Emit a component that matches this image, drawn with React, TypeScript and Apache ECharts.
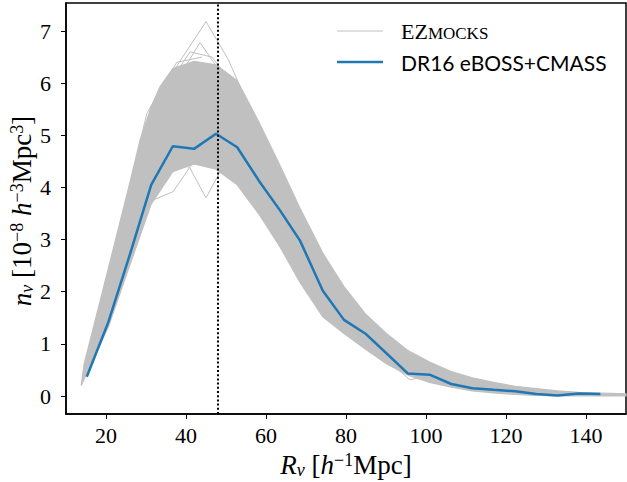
import React, { useEffect, useRef } from "react";
import * as echarts from "echarts";

// DR16 eBOSS+CMASS measured void number density
const dataX = [15.2, 20.6, 26.0, 31.3, 36.7, 42.0, 47.5, 52.8, 58.3, 63.5, 68.5, 74.2, 79.5, 84.8, 90.1, 95.5, 100.9, 106.3, 111.6, 116.9, 122.3, 127.6, 132.9, 138.1, 143.6];
const dataY = [0.37, 1.42, 2.72, 4.05, 4.79, 4.74, 5.03, 4.77, 4.12, 3.56, 2.98, 2.02, 1.46, 1.2, 0.82, 0.43, 0.41, 0.23, 0.15, 0.12, 0.09, 0.04, 0.01, 0.05, 0.04];

// EZmocks envelope (upper and lower edge of the bundle of mock curves)
const bandUpperX = [14.5, 20.6, 26.0, 28.5, 31.3, 33.5, 36.7, 42.0, 47.5, 52.8, 58.3, 63.5, 68.5, 74.2, 79.5, 84.8, 90.1, 95.5, 100.9, 106.3, 111.6, 116.9, 122.3, 127.6, 132.9, 138.1, 143.6, 150];
const bandUpperY = [0.6, 2.45, 4.1, 4.9, 5.55, 5.93, 6.28, 6.42, 6.35, 6.05, 5.24, 4.42, 3.6, 2.74, 2.1, 1.58, 1.2, 0.87, 0.65, 0.47, 0.35, 0.26, 0.185, 0.14, 0.1, 0.072, 0.055, 0.04];
const bandLowerX = [13.8, 20.6, 26.0, 31.3, 36.7, 42.0, 47.5, 52.8, 58.3, 63.5, 68.5, 74.2, 79.5, 84.8, 90.1, 95.5, 100.9, 106.3, 111.6, 116.9, 122.3, 127.6, 132.9, 138.1, 143.6, 150];
const bandLowerY = [0.2, 1.33, 2.52, 3.68, 4.3, 4.45, 4.35, 4.05, 3.48, 2.86, 2.18, 1.52, 1.2, 0.9, 0.62, 0.4, 0.26, 0.17, 0.1, 0.06, 0.03, 0.01, 0.0, 0.0, 0.0, 0.0];

// individual outlying mocks visible outside the dense bundle
const mockA: number[][] = [[33.0, 5.7], [38.3, 6.4], [45.0, 7.18], [50.6, 6.45], [56.0, 5.5]];
const mockB: number[][] = [[33.0, 5.6], [38.5, 6.15], [43.5, 6.78], [48.7, 6.2], [54.0, 5.6]];
const mockC: number[][] = [[35.0, 5.9], [41.0, 6.6], [46.5, 6.5], [51.5, 6.0]];
const mockD: number[][] = [[26.0, 4.05], [30.2, 5.42], [37.7, 6.4], [44.0, 6.5]];
const mockE: number[][] = [[36.0, 4.6], [41.0, 4.37], [45.0, 3.8], [48.5, 4.3], [53.0, 4.2]];
const mockF: number[][] = [[31.5, 3.75], [36.8, 3.92], [41.5, 4.45], [47.0, 4.5]];
const mockG: number[][] = [[90.0, 0.7], [96.0, 0.31], [101.0, 0.4], [106.5, 0.2]];

const xTicks = [20, 40, 60, 80, 100, 120, 140];
const yTicks = [0, 1, 2, 3, 4, 5, 6, 7];
const meanRadius = 48;

const GREY = "#c0c0c0";
const BLUE = "#1f77b4";
const SERIF = "'Liberation Serif', 'DejaVu Serif', serif";

const mathRich = {
  i: { fontSize: 27, fontFamily: SERIF, fontStyle: "italic", fill: "#000", lineHeight: 28, verticalAlign: "middle" },
  n: { fontSize: 27, fontFamily: SERIF, fill: "#000", lineHeight: 28, verticalAlign: "middle" },
  sub: { fontSize: 18, fontFamily: SERIF, fontStyle: "italic", fill: "#000", lineHeight: 9, verticalAlign: "bottom" },
  sup: { fontSize: 18, fontFamily: SERIF, fill: "#000", lineHeight: 9, verticalAlign: "top" },
};

export default function App() {
  const ref = useRef<HTMLDivElement>(null);
  useEffect(() => {
    if (!ref.current) return;
    const chart = echarts.init(ref.current, undefined, { renderer: "svg" });
    const mockSeries = [mockA, mockB, mockC, mockD, mockE, mockF, mockG].map((m) => ({
      type: "line",
      data: m,
      symbol: "none",
      silent: true,
      lineStyle: { color: GREY, width: 1 },
      z: 3,
    }));
    chart.setOption({
      animation: false,
      backgroundColor: "#fff",
      grid: { left: 66, right: 1, top: 3, bottom: 68, show: true, borderColor: "#000", borderWidth: 1.5, backgroundColor: "transparent" },
      xAxis: {
        type: "value",
        min: 10,
        max: 150,
        axisLine: { show: true, onZero: false, lineStyle: { color: "#000", width: 1.5 } },
        axisTick: { show: true, inside: false, length: 5, customValues: xTicks, lineStyle: { color: "#000", width: 1 } },
        axisLabel: { customValues: xTicks, color: "#000", fontSize: 22, fontFamily: SERIF, margin: 10 },
        splitLine: { show: false },
      },
      yAxis: {
        type: "value",
        min: -0.345,
        max: 7.537,
        axisLine: { show: true, onZero: false, lineStyle: { color: "#000", width: 1.5 } },
        axisTick: { show: true, inside: false, length: 5, customValues: yTicks, lineStyle: { color: "#000", width: 1 } },
        axisLabel: { customValues: yTicks, color: "#000", fontSize: 22, fontFamily: SERIF, margin: 15 },
        splitLine: { show: false },
      },
      series: [
        {
          type: "custom",
          silent: true,
          z: 2,
          data: [[0, 0]],
          renderItem: (params: any, api: any) => {
            const pts: number[][] = [];
            for (let i = 0; i < bandUpperX.length; i++) pts.push(api.coord([bandUpperX[i], bandUpperY[i]]));
            for (let i = bandLowerX.length - 1; i >= 0; i--) pts.push(api.coord([bandLowerX[i], bandLowerY[i]]));
            return { type: "polygon", shape: { points: pts }, style: { fill: GREY, stroke: GREY, lineWidth: 1.2 } };
          },
        },
        ...mockSeries,
        {
          type: "line",
          name: "DR16 eBOSS+CMASS",
          data: dataX.map((x, i) => [x, dataY[i]]),
          symbol: "none",
          lineStyle: { color: BLUE, width: 2.5 },
          z: 5,
          markLine: {
            silent: true,
            symbol: "none",
            label: { show: false },
            lineStyle: { color: "#000", type: [2, 2.2], width: 2 },
            data: [{ xAxis: meanRadius }],
            z: 6,
          },
        },
      ],
      graphic: [
        { type: "line", shape: { x1: 337, y1: 31, x2: 383, y2: 31 }, style: { stroke: GREY, lineWidth: 1 } },
        { type: "line", shape: { x1: 337, y1: 62, x2: 383, y2: 62 }, style: { stroke: BLUE, lineWidth: 2.5 } },
        {
          type: "text",
          x: 401,
          y: 31,
          style: {
            text: "{b|EZ}{s|MOCKS}",
            verticalAlign: "middle",
            rich: {
              b: { fontSize: 22, fontFamily: SERIF, fill: "#000", verticalAlign: "bottom", lineHeight: 22 },
              s: { fontSize: 17, fontFamily: SERIF, fill: "#000", verticalAlign: "bottom", lineHeight: 19 },
            },
          },
        },
        {
          type: "text",
          x: 401,
          y: 62,
          style: { text: "DR16 eBOSS+CMASS", fontSize: 21, fontFamily: "Lato, 'DejaVu Sans', sans-serif", fill: "#000", verticalAlign: "middle" },
        },
        {
          type: "text",
          x: 346,
          y: 465,
          style: {
            text: "{i|R}{sub|v}{n| [}{i|h}{sup|−1}{n|Mpc]}",
            align: "center",
            verticalAlign: "middle",
            rich: mathRich,
          },
        },
        {
          type: "text",
          x: 22,
          y: 211,
          rotation: Math.PI / 2,
          style: {
            text: "{i|n}{sub|v}{n| [10}{sup|−8}{n| }{i|h}{sup|−3}{n|Mpc}{sup|3}{n|]}",
            align: "center",
            verticalAlign: "middle",
            rich: mathRich,
          },
        },
      ],
    });
    return () => chart.dispose();
  }, []);
  return <div ref={ref} style={{ position: "absolute", left: 0, top: 0, width: 627, height: 482 }} />;
}
